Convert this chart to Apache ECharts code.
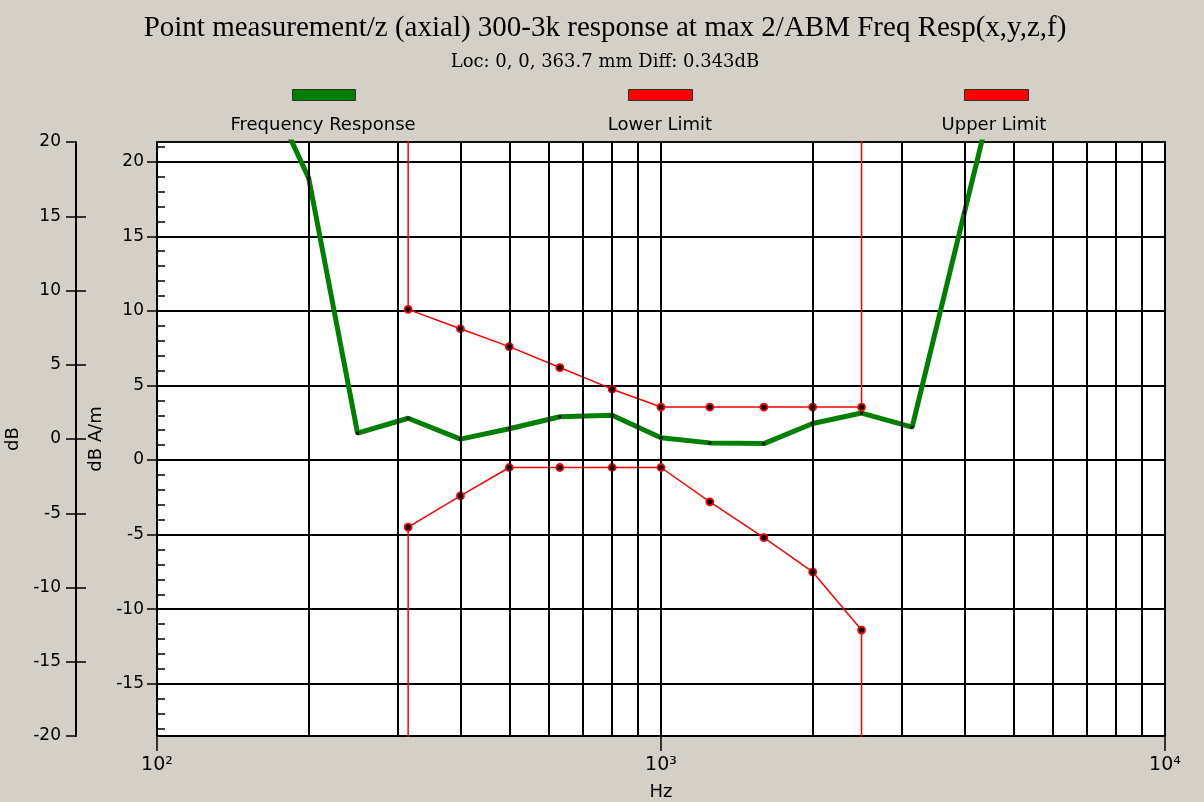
<!DOCTYPE html>
<html><head><meta charset="utf-8">
<script src="https://cdn.jsdelivr.net/npm/echarts@6/dist/echarts.min.js"></script>
<style>html,body{margin:0;padding:0;background:#D4D0C8;}#main{width:1204px;height:802px;}</style>
</head><body><div id="main"></div>
<script>
const titleText = 'Point measurement/z (axial) 300-3k response at max 2/ABM Freq Resp(x,y,z,f)';
const subtitleText = 'Loc: 0, 0, 363.7 mm Diff: 0.343dB';
const seriesNames = ['Frequency Response', 'Lower Limit', 'Upper Limit'];

const respFreq = [160, 200, 250, 315, 400, 500, 630, 800, 1000, 1250, 1600, 2000, 2500, 3150, 4000, 5000];
const respVal  = [26, 18.9, 1.8, 2.8, 1.4, 2.1, 2.9, 3.0, 1.5, 1.15, 1.1, 2.45, 3.15, 2.2, 16.6, 30];

const lowerFreq = [315, 315, 400, 500, 630, 800, 1000, 1250, 1600, 2000, 2500, 2500];
const lowerVal  = [-40, -4.5, -2.4, -0.5, -0.5, -0.5, -0.5, -2.8, -5.2, -7.5, -11.4, -40];

const upperFreq = [315, 315, 400, 500, 630, 800, 1000, 1250, 1600, 2000, 2500, 2500];
const upperVal  = [60, 10.1, 8.8, 7.6, 6.2, 4.75, 3.55, 3.55, 3.55, 3.55, 3.55, 60];

const xTickValues = [100, 1000, 10000];
const xTickLabels = ['10²', '10³', '10⁴'];
const xGridFreq = [200, 300, 400, 500, 600, 700, 800, 900, 2000, 3000, 4000, 5000, 6000, 7000, 8000, 9000];
const yInnerTicks = [-15, -10, -5, 0, 5, 10, 15, 20];
const yInnerMinor = [-18,-17,-16,-15,-14,-13,-12,-11,-10,-9,-8,-7,-6,-5,-4,-3,-2,-1,0,1,2,3,4,5,6,7,8,9,10,11,12,13,14,15,16,17,18,19,20,21];
const yOuterCross = [-15, -10, -5, 0, 5, 10, 15];

const SANS = 'DejaVu Sans';
const chart = echarts.init(document.getElementById('main'));

function limitData(fr, vals) {
  const last = fr.length - 1;
  return fr.map((f, i) => (i === 0 || i === last) ? { value: [f, vals[i]], symbol: 'none' } : [f, vals[i]]);
}
const limitItem = { color: '#000', borderColor: '#ff0000', borderWidth: 1.8 };

const option = {
  backgroundColor: '#D4D0C8',
  animation: false,
  grid: { left: 157, right: 39, top: 142, bottom: 66, show: true, backgroundColor: '#fff', borderColor: '#111', borderWidth: 2, outerBoundsMode: 'none', containLabel: false },
  graphic: [
    { type: 'text', style: { text: titleText, x: 605, y: 28, textAlign: 'center', textVerticalAlign: 'middle', fontFamily: 'Liberation Serif', fontSize: 29, fill: '#000' } },
    { type: 'text', style: { text: subtitleText, x: 605, y: 62, textAlign: 'center', textVerticalAlign: 'middle', fontFamily: 'DejaVu Serif', fontSize: 18, fill: '#000' } },
    { type: 'rect', shape: { x: 292.5, y: 89.5, width: 63, height: 11 }, style: { fill: '#008000', stroke: '#303030', lineWidth: 1 } },
    { type: 'rect', shape: { x: 628.5, y: 89.5, width: 64, height: 11 }, style: { fill: '#ff0000', stroke: '#303030', lineWidth: 1 } },
    { type: 'rect', shape: { x: 964.5, y: 89.5, width: 64, height: 11 }, style: { fill: '#ff0000', stroke: '#303030', lineWidth: 1 } },
    { type: 'text', style: { text: seriesNames[0], x: 323, y: 125, textAlign: 'center', textVerticalAlign: 'middle', fontFamily: SANS, fontSize: 18, fill: '#000' } },
    { type: 'text', style: { text: seriesNames[1], x: 660, y: 125, textAlign: 'center', textVerticalAlign: 'middle', fontFamily: SANS, fontSize: 18, fill: '#000' } },
    { type: 'text', style: { text: seriesNames[2], x: 994, y: 125, textAlign: 'center', textVerticalAlign: 'middle', fontFamily: SANS, fontSize: 18, fill: '#000' } }
  ],
  xAxis: {
    type: 'log', logBase: 10, min: 100, max: 10000,
    name: 'Hz', nameLocation: 'middle', nameGap: 47,
    nameTextStyle: { fontFamily: SANS, fontSize: 18, color: '#000' },
    axisLine: { onZero: false, lineStyle: { color: '#000', width: 2 } },
    axisTick: { show: true, length: 15, lineStyle: { color: '#000', width: 1.5 } },
    axisLabel: {
      margin: 20, fontFamily: SANS, fontSize: 19, color: '#000',
      formatter: function (v) {
        const i = xTickValues.findIndex(t => Math.abs(Math.log10(t) - Math.log10(v)) < 1e-6);
        return i >= 0 ? xTickLabels[i] : '';
      }
    },
    splitLine: { show: true, lineStyle: { color: '#000', width: 2 } },
    minorTick: { show: false }, minorSplitLine: { show: false }
  },
  yAxis: [
    {
      type: 'value', min: -18.5, max: 21.32, position: 'left', offset: 0,
      name: 'dB A/m', nameLocation: 'middle', nameGap: 48,
      nameTextStyle: { fontFamily: SANS, fontSize: 18, color: '#000' },
      axisLine: { show: true, onZero: false, lineStyle: { color: '#000', width: 2 } },
      axisTick: { show: true, inside: false, length: 10, customValues: yInnerTicks, lineStyle: { color: '#000', width: 1.5 } },
      axisLabel: { customValues: yInnerTicks, margin: 13, fontFamily: SANS, fontSize: 17, color: '#000' },
      splitLine: { show: true, lineStyle: { color: '#000', width: 2 } }
    },
    {
      type: 'value', min: -20, max: 20, interval: 5, position: 'left', offset: 81,
      name: 'dB', nameLocation: 'middle', nameGap: 46,
      nameTextStyle: { fontFamily: SANS, fontSize: 18, color: '#000' },
      axisLine: { show: true, onZero: false, lineStyle: { color: '#000', width: 2 } },
      axisTick: { show: true, inside: false, length: 10, lineStyle: { color: '#000', width: 1.5 } },
      axisLabel: { margin: 15, fontFamily: SANS, fontSize: 17, color: '#000' },
      splitLine: { show: false }
    },
    {
      type: 'value', min: -18.5, max: 21.32, position: 'left', offset: 0,
      axisLine: { show: false },
      axisTick: { show: true, inside: true, length: 8, customValues: yInnerMinor, lineStyle: { color: '#000', width: 1.5 } },
      axisLabel: { show: false },
      splitLine: { show: false }
    },
    {
      type: 'value', min: -20, max: 20, position: 'left', offset: 81,
      axisLine: { show: false },
      axisTick: { show: true, inside: true, length: 10, customValues: yOuterCross, lineStyle: { color: '#000', width: 1.5 } },
      axisLabel: { show: false },
      splitLine: { show: false }
    }
  ],
  series: [
    {
      type: 'line', name: 'grid', z: 1, data: [], silent: true,
      markLine: {
        silent: true, symbol: ['none', 'none'], label: { show: false },
        lineStyle: { color: '#000', width: 2, type: 'solid' },
        data: xGridFreq.map(f => ({ xAxis: f }))
      }
    },
    {
      type: 'line', name: seriesNames[0], z: 3,
      data: respFreq.map((f, i) => [f, respVal[i]]),
      lineStyle: { color: '#008000', width: 5 },
      symbol: 'rect', symbolSize: 3, showSymbol: true, showAllSymbol: true,
      itemStyle: { color: '#000' }
    },
    {
      type: 'line', name: seriesNames[1], z: 4,
      data: limitData(lowerFreq, lowerVal),
      lineStyle: { color: '#ff0000', width: 1.5 },
      symbol: 'circle', symbolSize: 7, showSymbol: true, showAllSymbol: true,
      itemStyle: limitItem
    },
    {
      type: 'line', name: seriesNames[2], z: 4,
      data: limitData(upperFreq, upperVal),
      lineStyle: { color: '#ff0000', width: 1.5 },
      symbol: 'circle', symbolSize: 7, showSymbol: true, showAllSymbol: true,
      itemStyle: limitItem
    }
  ]
};
chart.setOption(option);
</script>
</body></html>
